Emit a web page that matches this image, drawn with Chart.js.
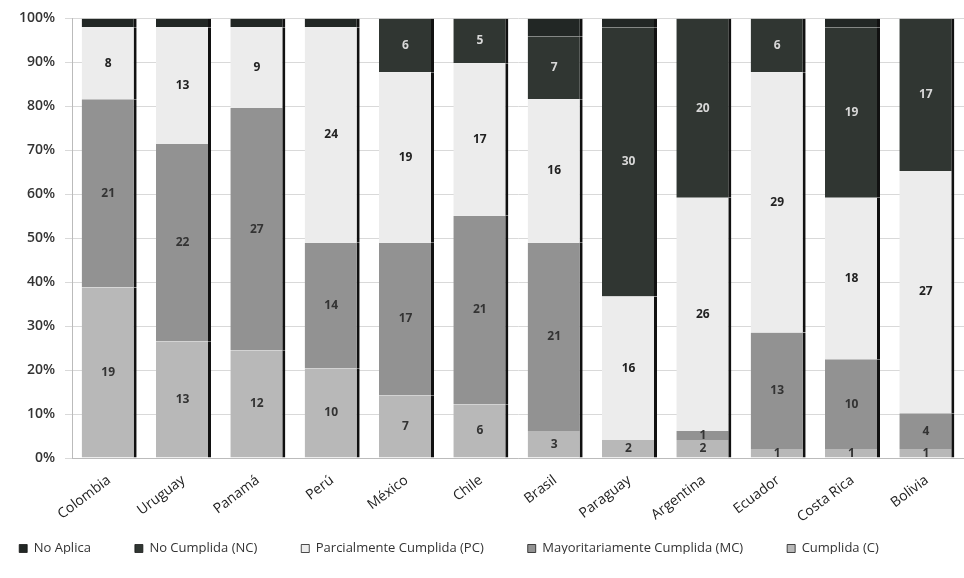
<!DOCTYPE html>
<html>
<head>
<meta charset="utf-8">
<script src="https://cdn.jsdelivr.net/npm/chart.js@4/dist/chart.umd.min.js"></script>
<style>
  html, body { margin: 0; padding: 0; background: #fff; }
  #wrap { width: 964px; height: 578px; }
</style>
</head>
<body>
<div id="wrap"><canvas id="c" width="964" height="578"></canvas></div>
<script>
const countries = ["Colombia","Uruguay","Panamá","Perú","México","Chile","Brasil","Paraguay","Argentina","Ecuador","Costa Rica","Bolivia"];
const cumplida        = [19, 13, 12, 10,  7,  6,  3,  2,  2,  1,  1,  1];
const mayoritariamente= [21, 22, 27, 14, 17, 21, 21,  0,  1, 13, 10,  4];
const parcialmente    = [ 8, 13,  9, 24, 19, 17, 16, 16, 26, 29, 18, 27];
const noCumplida      = [ 0,  0,  0,  0,  6,  5,  7, 30, 20,  6, 19, 17];
const noAplica        = [ 1,  1,  1,  1,  0,  0,  2,  1,  0,  0,  1,  0];
const yTicks = [0,10,20,30,40,50,60,70,80,90,100];

const totals = countries.map((_, i) => cumplida[i] + mayoritariamente[i] + parcialmente[i] + noCumplida[i] + noAplica[i]);
const pct = arr => arr.map((v, i) => v / totals[i] * 100);

const series = [
  { label: "Cumplida (C)", counts: cumplida, color: "#b8b8b8", text: "#333", showLabels: true },
  { label: "Mayoritariamente Cumplida (MC)", counts: mayoritariamente, color: "#929292", text: "#333", showLabels: true },
  { label: "Parcialmente Cumplida (PC)", counts: parcialmente, color: "#ececec", text: "#222", showLabels: true },
  { label: "No Cumplida (NC)", counts: noCumplida, color: "#303632", text: "#d8d8d8", showLabels: true },
  { label: "No Aplica", counts: noAplica, color: "#222725", text: "#d8d8d8", showLabels: false }
];

const labelPlugin = {
  id: "segLabels",
  afterDatasetsDraw(chart) {
    const ctx = chart.ctx;
    ctx.save();
    ctx.font = "bold 12px 'Open Sans', sans-serif";
    ctx.textAlign = "center";
    ctx.textBaseline = "middle";
    chart.data.datasets.forEach((ds, di) => {
      const s = series[di];
      if (!s.showLabels) return;
      const meta = chart.getDatasetMeta(di);
      meta.data.forEach((el, i) => {
        const v = s.counts[i];
        if (!v) return;
        ctx.fillStyle = s.text;
        ctx.fillText(String(v), el.x - 1, (el.y + el.base) / 2);
      });
    });
    ctx.restore();
  }
};

// lift the legend row so it sits just under the rotated category labels
const legendLift = {
  id: "legendLift",
  afterLayout(chart) {
    const lg = chart.legend;
    if (lg) {
      lg.top -= 24; lg.bottom -= 24;
      lg.left -= 35; lg.right -= 35;
    }
  }
};

new Chart(document.getElementById("c"), {
  type: "bar",
  data: {
    labels: countries,
    datasets: series.map(s => ({
      label: s.label,
      data: pct(s.counts),
      backgroundColor: s.color,
      borderColor: "#111",
      borderWidth: { top: 0, bottom: 0, left: 0, right: 3 },
      borderSkipped: false,
      barPercentage: 0.74,
      categoryPercentage: 1.0
    }))
  },
  options: {
    responsive: false,
    animation: false,
    devicePixelRatio: 1,
    layout: { padding: { left: 4, right: 0, top: 10, bottom: 0 } },
    plugins: {
      legend: {
        position: "bottom",
        reverse: true,
        maxHeight: 56,
        labels: {
          boxWidth: 8,
          boxHeight: 8,
          padding: 44,
          color: "#333",
          font: { family: "'Open Sans', sans-serif", size: 13 }
        }
      },
      tooltip: { enabled: false }
    },
    scales: {
      x: {
        stacked: true,
        grid: { display: false },
        border: { color: "#bbb" },
        afterFit: axis => { axis.height = 64; },
        ticks: {
          color: "#222",
          padding: 6,
          minRotation: 37,
          maxRotation: 37,
          font: { family: "'Open Sans', sans-serif", size: 14 }
        }
      },
      y: {
        stacked: true,
        min: 0,
        max: 100,
        afterBuildTicks: axis => { axis.ticks = yTicks.map(v => ({ value: v })); },
        afterFit: axis => { axis.width = 68; },
        grid: { color: "#d9d9d9", tickLength: 7 },
        border: { color: "#bbb" },
        ticks: {
          color: "#333",
          padding: 10,
          font: { family: "'Open Sans', sans-serif", size: 14, weight: "600" },
          callback: v => v + "%"
        }
      }
    }
  },
  plugins: [labelPlugin, legendLift]
});
</script>
</body>
</html>
